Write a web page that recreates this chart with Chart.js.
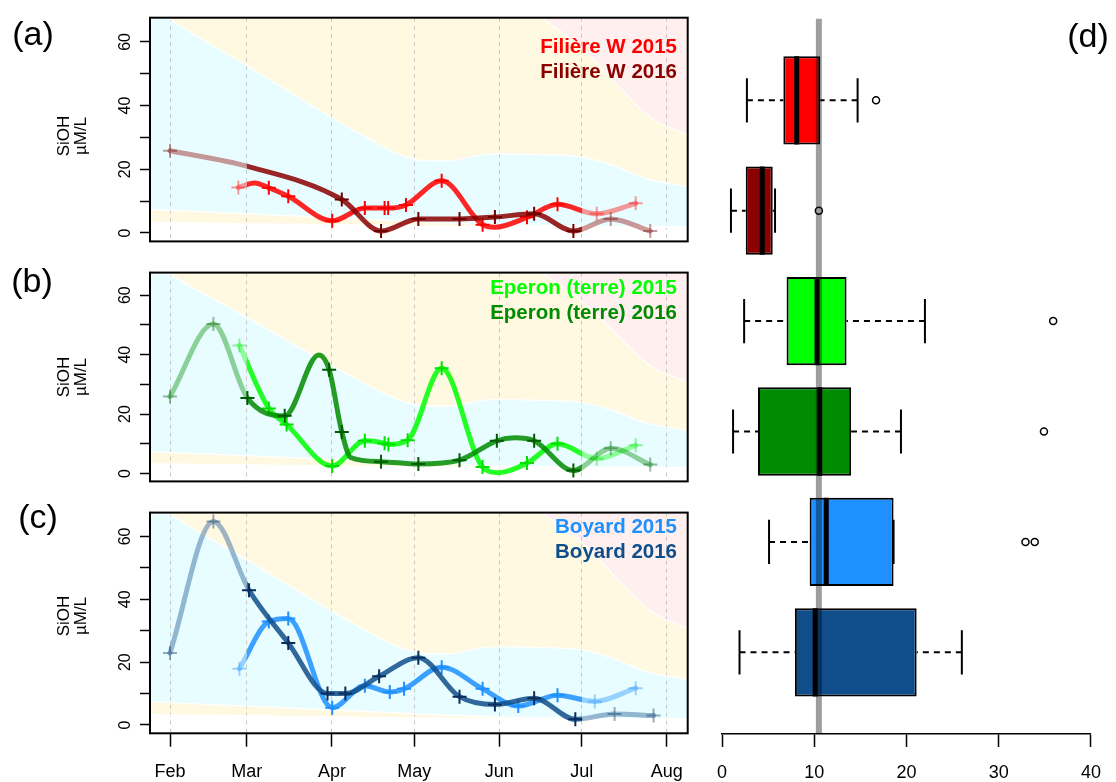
<!DOCTYPE html>
<html><head><meta charset="utf-8">
<script src="https://cdn.jsdelivr.net/npm/chart.js@4/dist/chart.umd.min.js"></script>
<style>
html,body{margin:0;padding:0;background:#fff;}
#wrap{position:relative;width:1116px;height:782px;overflow:hidden;font-family:'Liberation Sans',Arial,Helvetica,sans-serif;color:#000;}
canvas{position:absolute;}
.t{position:absolute;white-space:nowrap;}
.leg{position:absolute;right:439px;text-align:right;font-weight:bold;font-size:20.5px;line-height:25px;white-space:nowrap;}
.pl{position:absolute;width:60px;text-align:center;font-size:34px;line-height:40px;}
.yt{position:absolute;width:100px;height:34px;text-align:center;font-size:17px;line-height:17px;transform:rotate(-90deg);transform-origin:50% 50%;}
</style></head><body>
<div id="wrap">
<canvas id="ca" width="700" height="257" style="left:0;top:0"></canvas>
<canvas id="cb" width="700" height="240" style="left:0;top:257px"></canvas>
<canvas id="cc" width="700" height="285" style="left:0;top:497px"></canvas>
<canvas id="cd" width="416" height="782" style="left:700px;top:0"></canvas>

<div class="pl" style="left:3px;top:13px">(a)</div>
<div class="pl" style="left:2px;top:260px">(b)</div>
<div class="pl" style="left:8px;top:496px">(c)</div>
<div class="pl" style="left:1058px;top:15px">(d)</div>

<div class="yt" style="left:21.5px;top:119px">SiOH<br>µM/L</div>
<div class="yt" style="left:21.5px;top:360px">SiOH<br>µM/L</div>
<div class="yt" style="left:21.5px;top:599px">SiOH<br>µM/L</div>

<div class="leg" style="top:33px"><span style="color:#FF0000">Filière W 2015</span><br><span style="color:#8B0000">Filière W 2016</span></div>
<div class="leg" style="top:274px"><span style="color:#00FF00">Eperon (terre) 2015</span><br><span style="color:#008B00">Eperon (terre) 2016</span></div>
<div class="leg" style="top:513px"><span style="color:#1E90FF">Boyard 2015</span><br><span style="color:#104E8B">Boyard 2016</span></div>
</div>
<script>
// ---------------- data ----------------
const monthDays = [32, 60, 91, 121, 152, 182, 213];
const monthLabels = ['Feb', 'Mar', 'Apr', 'May', 'Jun', 'Jul', 'Aug'];
const yTickValues = [0, 10, 20, 30, 40, 50, 60];
const seasonStart = 60;   // Mar 1
const seasonEnd = 182;    // Jul 1

// Filière W
const fw15Days = [56.9, 68.0, 75.1, 91.1, 103.0, 110.2, 111.5, 118.0, 131.0, 145.9, 162.1, 173.2, 187.5, 201.7];
const fw15Vals = [14.3, 14.2, 11.5, 3.8, 7.8, 7.8, 7.8, 8.8, 16.4, 2.6, 4.9, 9.0, 6.0, 9.3];
const fw15CurveDays = [62.8, 150.4];
const fw15CurveVals = [15.7, 1.8];
const fw16Days = [32, 94.6, 108.9, 122.5, 137.5, 150.4, 164.7, 179.0, 192.6, 207.0];
const fw16Vals = [25.8, 10.5, 0.6, 4.4, 4.4, 5.0, 6.0, 0.6, 4.4, 0.6];
const fw16CurveDays = [60.2];
const fw16CurveVals = [20.9];

// Eperon (terre)
const ep15Days = [57.3, 68.0, 74.5, 91.1, 103.0, 110.2, 111.6, 118.6, 131.0, 145.9, 162.1, 173.2, 187.5, 201.7];
const ep15Vals = [43.1, 21.9, 16.5, 2.5, 11.0, 10.2, 9.8, 11.2, 35.4, 2.2, 3.5, 10.0, 5.0, 9.5];
const ep15CurveDays = [151.7];
const ep15CurveVals = [0.3];
const ep16Days = [32, 47.8, 60.2, 73.8, 90.0, 94.6, 108.9, 122.5, 137.5, 151.1, 164.7, 179.0, 192.6, 207.0];
const ep16Vals = [25.9, 50.3, 25.4, 19.4, 34.9, 14.0, 4.0, 3.2, 4.5, 11.0, 11.0, 1.0, 8.5, 3.0];
const ep16CurveDays = [86.2, 97.8, 157.6];
const ep16CurveVals = [39.9, 5.4, 12.0];

// Boyard
const bo15Days = [57.3, 68.0, 75.1, 91.1, 103.0, 112.1, 117.3, 131.0, 145.9, 158.9, 173.2, 186.8, 201.7];
const bo15Vals = [17.9, 32.9, 33.9, 5.5, 12.5, 10.5, 11.5, 18.4, 11.5, 6.0, 9.5, 7.5, 11.7];
const bo16Days = [32, 47.8, 60.8, 75.1, 89.4, 95.9, 108.2, 122.5, 137.5, 150.4, 164.7, 179.7, 194.0, 208.2];
const bo16Vals = [22.9, 64.8, 42.9, 26.1, 10.0, 10.0, 15.5, 21.4, 9.0, 6.5, 8.5, 1.8, 3.5, 3.0];

// background envelopes
const bandLowDays = [24.7, 120, 220.7];
const bandLowVals = [3.3, 2.3, 1.6];
const bandCyanDays = [24.7, 91, 151, 220.7];
const bandCyanVals = [7.4, 4.8, 2.6, 2.0];
const bandUpDays = [24.7, 33, 60, 91.4, 105.6, 114.7, 125, 134, 144.6, 151, 164, 182, 194, 205.6, 220.7];
const bandUpVals = [71.5, 66.5, 52.5, 36, 29, 25, 22.7, 22.7, 24.4, 24.9, 24.7, 23.9, 21, 17, 14.5];
const bandPinkDays = [165, 168, 181, 196.5, 207, 220.7];
const bandPinkVals = [70, 67.4, 59, 45.2, 36.3, 30.8];

// box plots (top to bottom)
const boxNames = ['Filière W 2015', 'Filière W 2016', 'Eperon (terre) 2015', 'Eperon (terre) 2016', 'Boyard 2015', 'Boyard 2016'];
const whiskerLow = [2.7, 0.97, 2.4, 1.2, 5.1, 1.9];
const quart1 = [6.65, 2.57, 7.0, 3.9, 9.5, 7.9];
const medians = [8.1, 4.36, 10.3, 10.6, 11.3, 10.1];
const quart3 = [10.65, 5.5, 13.5, 14.0, 18.6, 21.1];
const whiskerHigh = [14.7, 5.75, 22.0, 19.4, 18.6, 26.0];
const outlierVals = [[16.7], [10.5], [35.9], [34.9], [32.9, 33.9], []];
const refValue = 10.5;
const boxTicks = [0, 10, 20, 30, 40];

// ---------------- styles / helpers ----------------
const FONT = "'Liberation Sans', Arial, Helvetica, sans-serif";
const boxColors = ['#FF0000', '#8B0000', '#00FF00', '#008B00', '#1E90FF', '#104E8B'];
const CYAN = '#E8FDFF', YELLOW = '#FFF9E2', PINK = '#FFF0EF';

function seriesPoints(days, vals, exDays, exVals) {
  const pts = days.map((d, i) => ({x: d, y: vals[i], s: true}));
  (exDays || []).forEach((d, i) => pts.push({x: d, y: exVals[i], s: false}));
  return pts.sort((a, b) => a.x - b.x);
}

function fadeGradient(chart, solid, faded) {
  const {ctx, chartArea, scales} = chart;
  if (!chartArea || !scales.x) return solid;
  const x0 = chartArea.left, x1 = chartArea.right;
  const g = ctx.createLinearGradient(x0, 0, x1, 0);
  const p1 = Math.min(1, Math.max(0, (scales.x.getPixelForValue(seasonStart) - x0) / (x1 - x0)));
  const p2 = Math.min(1, Math.max(0, (scales.x.getPixelForValue(seasonEnd) - x0) / (x1 - x0)));
  g.addColorStop(0, faded); g.addColorStop(p1, faded);
  g.addColorStop(p1, solid); g.addColorStop(p2, solid);
  g.addColorStop(p2, faded); g.addColorStop(1, faded);
  return g;
}

function makeSeries(points, rgb, markRgb, order) {
  const solid = `rgba(${rgb},0.85)`, faded = `rgba(${rgb},0.4)`;
  const mSolid = `rgb(${markRgb})`, mFaded = `rgba(${markRgb},0.4)`;
  return {
    data: points, order: order, fill: false,
    borderWidth: 5, cubicInterpolationMode: 'monotone',
    borderCapStyle: 'round', borderJoinStyle: 'round',
    borderColor: ctx => fadeGradient(ctx.chart, solid, faded),
    pointStyle: 'cross',
    pointRadius: ctx => (ctx.raw && ctx.raw.s) ? 7 : 0,
    pointBorderWidth: 2,
    pointBorderColor: ctx => (ctx.raw && (ctx.raw.x < seasonStart || ctx.raw.x > seasonEnd)) ? mFaded : mSolid,
    pointBackgroundColor: 'rgba(0,0,0,0)'
  };
}

function band(days, vals, color, order) {
  return {
    data: days.map((d, i) => ({x: d, y: vals[i]})),
    borderColor: '#FFFFFF', borderWidth: 1.2, backgroundColor: color,
    fill: 'end', pointRadius: 0, cubicInterpolationMode: 'monotone', order: order
  };
}

function bands() {
  return [
    band(bandLowDays, bandLowVals, YELLOW, 104),
    band(bandCyanDays, bandCyanVals, CYAN, 103),
    band(bandUpDays, bandUpVals, YELLOW, 102),
    band(bandPinkDays, bandPinkVals, PINK, 101)
  ];
}

const framePlugin = {
  id: 'frame',
  afterDraw(chart) {
    const {ctx, chartArea: a} = chart;
    ctx.save();
    ctx.strokeStyle = '#000'; ctx.lineWidth = 2;
    ctx.strokeRect(a.left, a.top, a.right - a.left, a.bottom - a.top);
    ctx.restore();
  }
};

function panelChart(id, series, o) {
  return new Chart(document.getElementById(id), {
    type: 'line',
    data: {datasets: bands().concat(series)},
    options: {
      responsive: false, animation: false, devicePixelRatio: 1,
      events: [],
      layout: {padding: {left: 0, right: 12.3, top: o.top, bottom: o.bottom}},
      plugins: {legend: {display: false}, tooltip: {enabled: false},
                filler: {propagate: false, drawTime: 'beforeDraw'}},
      scales: {
        x: {
          type: 'linear', min: 24.71, max: 220.65,
          afterBuildTicks: s => { s.ticks = monthDays.map(v => ({value: v})); },
          afterFit: s => { s.height = o.xh; },
          border: {display: false, dash: [4, 4]},
          grid: {color: '#C8C8C8', lineWidth: 1, drawTicks: o.showX, tickLength: 13.4,
                 tickColor: '#000', tickWidth: 1.5, tickBorderDash: []},
          ticks: {display: o.showX, autoSkip: false, maxRotation: 0, padding: 15, color: '#000',
                  font: {family: FONT, size: 18},
                  callback: (v, i) => monthLabels[i]}
        },
        y: {
          type: 'linear', min: -2.65, max: 67.6,
          afterBuildTicks: s => { s.ticks = yTickValues.map(v => ({value: v})); },
          afterFit: s => { s.width = 150; },
          border: {display: false},
          grid: {drawOnChartArea: false, tickLength: 10, tickColor: '#000', tickWidth: 1.5},
          ticks: {autoSkip: false, minRotation: 90, maxRotation: 90, crossAlign: 'center', padding: 6,
                  color: '#000', font: {family: FONT, size: 16},
                  callback: v => (v % 20 === 0 ? String(v) : '')}
        }
      }
    },
    plugins: [framePlugin]
  });
}

// ---------------- panels a, b, c ----------------
panelChart('ca', [
  makeSeries(seriesPoints(fw15Days, fw15Vals, fw15CurveDays, fw15CurveVals), '255,0,0', '255,0,0', 2),
  makeSeries(seriesPoints(fw16Days, fw16Vals, fw16CurveDays, fw16CurveVals), '139,0,0', '110,0,0', 1)
], {top: 17.7, bottom: 3, xh: 0, showX: false});

panelChart('cb', [
  makeSeries(seriesPoints(ep15Days, ep15Vals, ep15CurveDays, ep15CurveVals), '0,255,0', '0,225,0', 2),
  makeSeries(seriesPoints(ep16Days, ep16Vals, ep16CurveDays, ep16CurveVals), '0,139,0', '0,90,0', 1)
], {top: 2.3, bottom: 2.7, xh: 0, showX: false});

panelChart('cc', [
  makeSeries(seriesPoints(bo15Days, bo15Vals), '30,144,255', '30,144,255', 2),
  makeSeries(seriesPoints(bo16Days, bo16Vals), '16,78,139', '8,45,90', 1)
], {top: 2.3, bottom: 0, xh: 48.7, showX: true});

// ---------------- panel d (box plots) ----------------
const boxDatasets = [];
boxDatasets.push({
  type: 'bar', indexAxis: 'y', order: 10,
  data: quart1.map((q, i) => ({x: [q, quart3[i]], y: i + 1})),
  backgroundColor: boxColors, borderColor: '#000', borderWidth: 2, borderSkipped: false,
  barPercentage: 0.8, categoryPercentage: 1
});
function seg(points, width, dash, order, color) {
  return {type: 'line', data: points, borderColor: color || '#000', borderWidth: width,
          borderDash: dash || [], pointRadius: 0, fill: false, order: order, tension: 0};
}
boxNames.forEach((name, i) => {
  const y = i + 1;
  if (quart1[i] > whiskerLow[i]) boxDatasets.push(seg([{x: whiskerLow[i], y}, {x: quart1[i], y}], 2, [6, 5], 6));
  if (whiskerHigh[i] > quart3[i]) boxDatasets.push(seg([{x: whiskerHigh[i], y}, {x: quart3[i], y}], 2, [6, 5], 6));
  boxDatasets.push(seg([{x: whiskerLow[i], y: y - 0.2}, {x: whiskerLow[i], y: y + 0.2}], 2, [], 6));
  boxDatasets.push(seg([{x: whiskerHigh[i], y: y - 0.2}, {x: whiskerHigh[i], y: y + 0.2}], 2, [], 6));
  boxDatasets.push(seg([{x: medians[i], y: y - 0.4}, {x: medians[i], y: y + 0.4}], 5, [], 5));
});
const outlierPts = [];
outlierVals.forEach((arr, i) => arr.forEach(v => outlierPts.push({x: v, y: i + 1})));
boxDatasets.push({type: 'line', data: outlierPts, showLine: false, pointStyle: 'circle', pointRadius: 3.5,
                  pointBorderWidth: 1.5, pointBorderColor: '#000', pointBackgroundColor: 'rgba(0,0,0,0)', order: 4});
boxDatasets.push(seg([{x: refValue, y: 0.26}, {x: refValue, y: 6.74}], 6, [], 1, 'rgba(0,0,0,0.38)'));

new Chart(document.getElementById('cd'), {
  type: 'bar',
  data: {datasets: boxDatasets},
  options: {
    responsive: false, animation: false, devicePixelRatio: 1, events: [],
    layout: {padding: {left: 22, right: 21, top: 18.6, bottom: 0}},
    plugins: {legend: {display: false}, tooltip: {enabled: false}},
    scales: {
      x: {
        type: 'linear', min: 0, max: 40, offset: false,
        afterBuildTicks: s => { s.ticks = boxTicks.map(v => ({value: v})); },
        afterFit: s => { s.height = 48; },
        border: {display: true, color: '#000', width: 1.5},
        grid: {offset: false, drawOnChartArea: false, tickLength: 13, tickColor: '#000', tickWidth: 1.5},
        ticks: {maxRotation: 0, autoSkip: false, padding: 15, color: '#000', font: {family: FONT, size: 18}}
      },
      y: {
        type: 'linear', min: 0.26, max: 6.74, reverse: true, display: false, offset: false,
        grid: {offset: false},
        afterBuildTicks: s => { s.ticks = boxNames.map((n, i) => ({value: i + 1})); }
      }
    }
  }
});
</script>
</body></html>
